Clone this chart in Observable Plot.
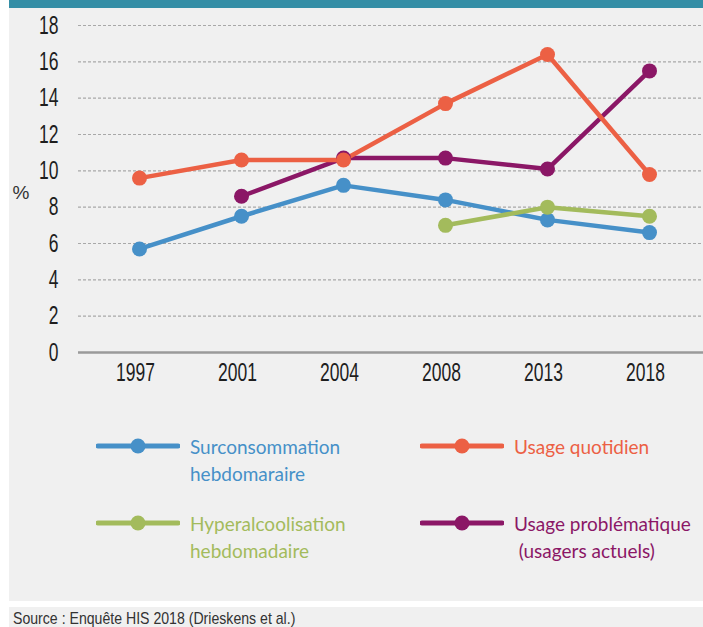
<!DOCTYPE html>
<html>
<head>
<meta charset="utf-8">
<script src="https://cdn.jsdelivr.net/npm/d3@7"></script>
<script src="https://cdn.jsdelivr.net/npm/@observablehq/plot@0.6"></script>
<style>
  html, body { margin: 0; padding: 0; background: #ffffff; }
  #page { position: relative; width: 703px; height: 627px; overflow: hidden; background: #fff; }
  #topbar { position: absolute; left: 9px; top: 0; width: 694px; height: 8px; background: #348ea6; }
  #panel { position: absolute; left: 9px; top: 8px; width: 694px; height: 593px; background: #f0f0f0; }
  #chart { position: absolute; left: 0; top: 0; }
  #legend { position: absolute; left: 0; top: 0; width: 694px; height: 593px; }
  .item { position: absolute; display: flex; align-items: flex-start; font-family: Lato, "Open Sans", sans-serif; font-size: 19px; line-height: 27px; }
  .item svg { flex: none; margin-top: 4px; margin-right: 10px; }
  #source { position: absolute; left: 9px; top: 607px; width: 694px; height: 20px; background: #f0f0f0; overflow: hidden; }
  #source span { display: inline-block; transform: scaleX(0.83); transform-origin: left center; white-space: nowrap;
            font-family: "Liberation Sans", Arial, sans-serif; font-size: 17px; color: #333; line-height: 24px; margin-left: 4px; }
</style>
</head>
<body>
<div id="page">
  <div id="topbar"></div>
  <div id="panel">
    <div id="chart"></div>
    <div id="legend"></div>
  </div>
  <div id="source"><span>Source : Enquête HIS 2018 (Drieskens et al.)</span></div>
</div>
<script>
const years = ["1997", "2001", "2004", "2008", "2013", "2018"];
const seriesNames = ["Usage problématique", "Surconsommation", "Hyperalcoolisation", "Usage quotidien"];
const seriesColors = ["#8b1766", "#4690c8", "#a3bb5c", "#ec6044"];
const surconsommation = [5.7, 7.5, 9.2, 8.4, 7.3, 6.6];
const usageQuotidien = [9.6, 10.6, 10.6, 13.7, 16.4, 9.8];
const usageProblematique = [null, 8.6, 10.7, 10.7, 10.1, 15.5];
const hyperalcoolisation = [null, null, null, 7.0, 8.0, 7.5];
const yTicks = [0, 2, 4, 6, 8, 10, 12, 14, 16, 18];
const gridTicks = [2, 4, 6, 8, 10, 12, 14, 16, 18];

const seriesValues = {
  "Usage problématique": usageProblematique,
  "Surconsommation": surconsommation,
  "Hyperalcoolisation": hyperalcoolisation,
  "Usage quotidien": usageQuotidien
};

const data = [];
for (const name of seriesNames) {
  seriesValues[name].forEach((v, i) => {
    if (v != null) data.push({series: name, year: years[i], value: v});
  });
}

const axisFont = "'Liberation Sans', Arial, sans-serif";

const chart = Plot.plot({
  width: 694,
  height: 400,
  marginLeft: 69,
  marginRight: 0,
  marginTop: 17,
  marginBottom: 56,
  style: { background: "transparent", fontFamily: axisFont, fontSize: "25px", color: "#1e1e1e" },
  x: { type: "point", domain: years, range: [130, 640], padding: 0, label: null, tickSize: 0, tickPadding: 11 },
  y: { domain: [0, 18], ticks: yTicks, label: null, tickSize: 0, tickPadding: 20 },
  color: { domain: seriesNames, range: seriesColors },
  marks: [
    Plot.ruleY(gridTicks, { stroke: "#a8a8a8", strokeWidth: 1.2, strokeDasharray: "3,2" }),
    Plot.ruleY([0], { stroke: "#9a9a9a", strokeWidth: 2.5 }),
    Plot.axisX({ tickSize: 0, tickPadding: 11, fontSize: 25, dx: -4 }),
    Plot.axisY({ ticks: yTicks, tickSize: 0, tickPadding: 20, fontSize: 25 }),
    Plot.text(["%"], { frameAnchor: "left", dx: -66, dy: 4, fontSize: 19, fill: "#333" }),
    Plot.line(data, { x: "year", y: "value", z: "series", stroke: "series", strokeWidth: 4.5 }),
    Plot.dot(data, { x: "year", y: "value", fill: "series", r: 7.5 })
  ]
});
document.getElementById("chart").appendChild(chart);

// Condense the axis tick labels horizontally (narrow typeface look)
d3.select(chart)
  .selectAll("g[aria-label='x-axis tick label'] text, g[aria-label='y-axis tick label'] text")
  .each(function () {
    const w = this.getComputedTextLength();
    if (w > 0) {
      this.setAttribute("textLength", (w * 0.7).toFixed(1));
      this.setAttribute("lengthAdjust", "spacingAndGlyphs");
    }
  });

// Legend
const legendItems = [
  { name: "Surconsommation", lines: ["Surconsommation", "hebdomaraire"], left: 87, top: 433 },
  { name: "Usage quotidien", lines: ["Usage quotidien"], left: 411, top: 433 },
  { name: "Hyperalcoolisation", lines: ["Hyperalcoolisation", "hebdomadaire"], left: 87, top: 510 },
  { name: "Usage problématique", lines: ["Usage problématique", "&nbsp;(usagers actuels)"], left: 411, top: 510 }
];
const legend = document.getElementById("legend");
for (const it of legendItems) {
  const color = seriesColors[seriesNames.indexOf(it.name)];
  const div = document.createElement("div");
  div.className = "item";
  div.style.left = it.left + "px";
  div.style.top = (it.top - 8) + "px";
  div.style.color = color;
  div.innerHTML =
    `<svg width="84" height="18"><line x1="2" x2="82" y1="9" y2="9" stroke="${color}" stroke-width="5" stroke-linecap="round"/>` +
    `<circle cx="42" cy="9" r="7.5" fill="${color}"/></svg>` +
    `<div>${it.lines.join("<br>")}</div>`;
  legend.appendChild(div);
}
</script>
</body>
</html>
